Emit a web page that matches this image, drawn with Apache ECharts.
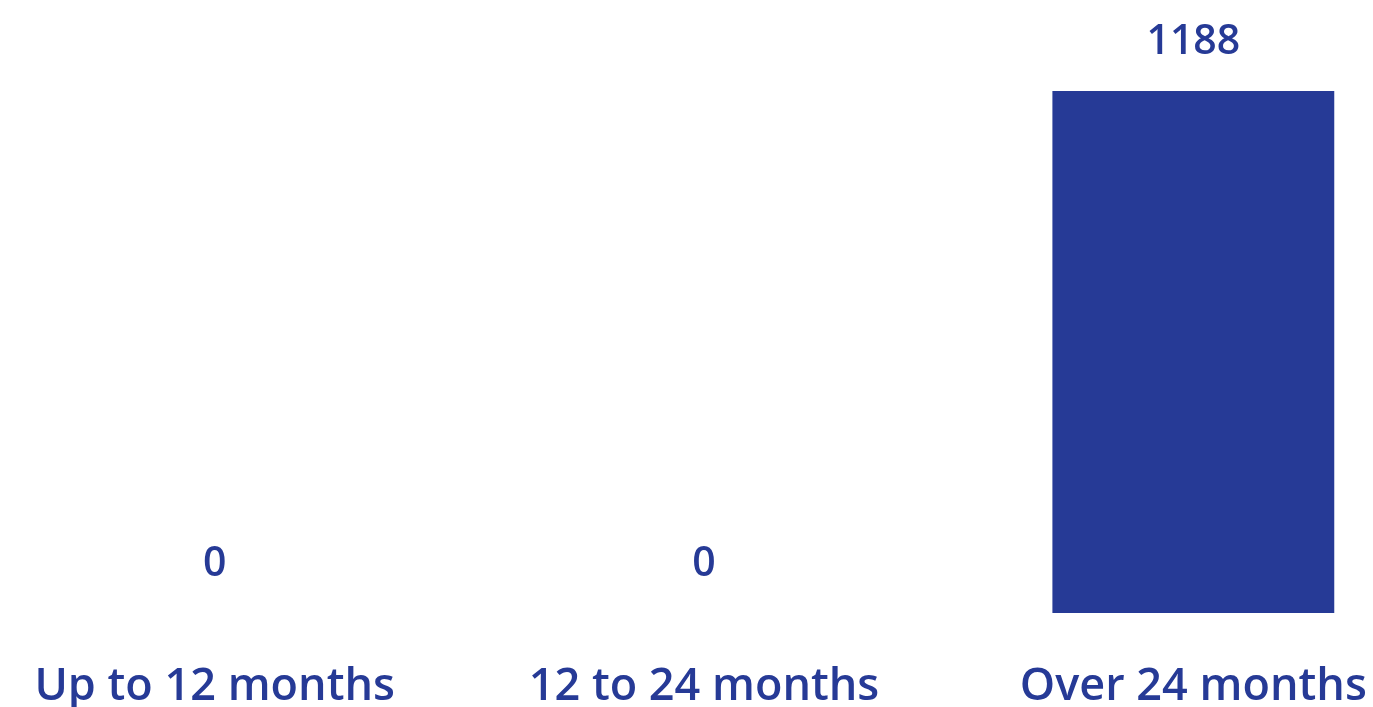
<!DOCTYPE html>
<html>
<head>
<meta charset="utf-8">
<script src="https://cdn.jsdelivr.net/npm/echarts@6/dist/echarts.min.js"></script>
<style>
html,body{margin:0;padding:0;background:#fff;}
#c{width:1373px;height:707px;}
</style>
</head>
<body>
<div id="c"></div>
<script>
const categories = ['Up to 12 months', '12 to 24 months', 'Over 24 months'];
const values = [0, 0, 1188];

const blue = '#263A96';
const chart = echarts.init(document.getElementById('c'));
chart.setOption({
  backgroundColor: '#ffffff',
  animation: false,
  grid: { left: -30, right: -65, top: 91, bottom: 94, containLabel: false, outerBoundsMode: 'none' },
  xAxis: {
    type: 'category',
    data: categories,
    axisLine: { show: false },
    axisTick: { show: false },
    axisLabel: {
      color: blue,
      fontFamily: 'Open Sans',
      fontWeight: 600,
      fontSize: 45,
      margin: 52,
      interval: 0,
      hideOverlap: false
    }
  },
  yAxis: {
    type: 'value',
    min: 0,
    max: 1188,
    show: false,
    splitLine: { show: false }
  },
  series: [{
    type: 'bar',
    data: values,
    barWidth: '57.6%',
    itemStyle: { color: blue },
    label: {
      show: true,
      position: 'top',
      distance: 28,
      color: blue,
      fontFamily: 'Open Sans',
      fontWeight: 600,
      fontSize: 41
    }
  }]
});
</script>
</body>
</html>
